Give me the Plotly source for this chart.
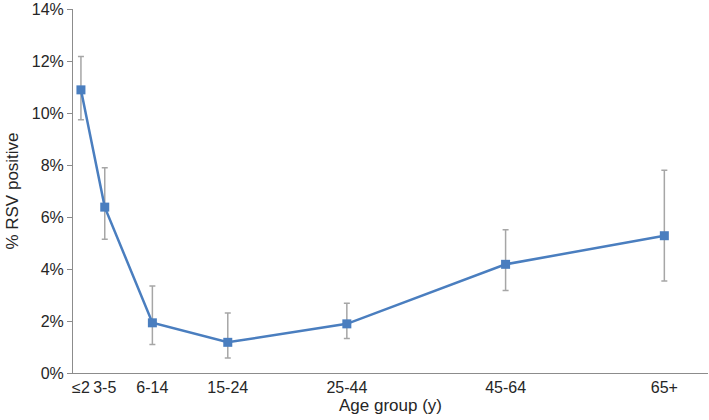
import plotly.graph_objects as go

# grupos de edad y su punto medio (años) en el eje x
age_groups = ["≤2", "3-5", "6-14", "15-24", "25-44", "45-64", "65+"]
age_mid = [1, 4, 10, 19.5, 34.5, 54.5, 74.5]

# % RSV positivo y límites del intervalo de confianza
pct_pos = [10.89, 6.38, 1.93, 1.18, 1.89, 4.18, 5.28]
ci_upper = [12.17, 7.89, 3.35, 2.31, 2.68, 5.51, 7.80]
ci_lower = [9.74, 5.14, 1.10, 0.58, 1.33, 3.17, 3.54]

err_plus = [u - p for u, p in zip(ci_upper, pct_pos)]
err_minus = [p - l for p, l in zip(pct_pos, ci_lower)]

axis_grey = '#8c8c8c'
font_col = '#262626'

trace = go.Scatter(
    x=age_mid, y=pct_pos,
    mode='lines+markers',
    line=dict(color='#4a7ebf', width=2.5),
    marker=dict(symbol='square', size=9, color='#4a7ebf'),
    error_y=dict(type='data', array=err_plus, arrayminus=err_minus,
                 color='#a6a6a6', thickness=1.5, width=3),
    hoverinfo='x+y')

fig = go.Figure(data=[trace])
fig.update_layout(
    width=709, height=420,
    margin=dict(l=73, r=1, t=9, b=47),
    paper_bgcolor='white', plot_bgcolor='white',
    showlegend=False,
    font=dict(family='Liberation Sans, Arial, sans-serif', size=16, color=font_col),
    xaxis=dict(range=[0, 80], tickvals=age_mid, ticktext=age_groups,
               tickangle=0,
               showgrid=False, zeroline=False, showline=True,
               linecolor=axis_grey, linewidth=1, ticks='',
               automargin=False, ticklabeloverflow='allow',
               title=dict(text='Age group (y)', standoff=2, font=dict(size=17))),
    yaxis=dict(range=[0, 14], dtick=2, ticksuffix='%',
               showgrid=False, zeroline=False, showline=True,
               linecolor=axis_grey, linewidth=1, ticks='outside',
               ticklen=5, tickcolor=axis_grey,
               automargin=False, ticklabeloverflow='allow',
               title=dict(text='% RSV positive', standoff=8, font=dict(size=17))),
)

# quitar el margen del body para que la figura quede en (0, 0)
fig.write_html("out.html", config={'displayModeBar': False},
               post_script="document.body.style.margin='0';")
